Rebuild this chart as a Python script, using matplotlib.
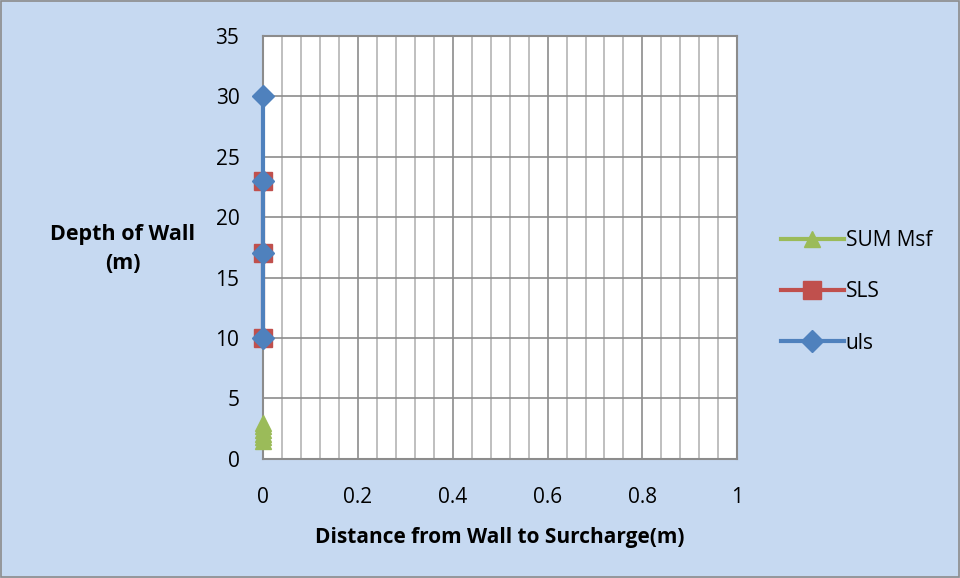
import matplotlib.pyplot as plt

plt.rcParams['font.family'] = ['Open Sans', 'DejaVu Sans']

# data
sum_msf_x = [0, 0, 0, 0, 0, 0]
sum_msf_y = [1.5, 1.8, 2.1, 2.4, 2.7, 3.0]
sls_x = [0, 0, 0]
sls_y = [10, 17, 23]
uls_x = [0, 0, 0, 0]
uls_y = [10, 17, 23, 30]
x_ticks = [0, 0.2, 0.4, 0.6, 0.8, 1]
x_tick_labels = ['0', '0.2', '0.4', '0.6', '0.8', '1']
y_ticks = [0, 5, 10, 15, 20, 25, 30, 35]

bg = '#C6D9F1'
fig = plt.figure(figsize=(9.6, 5.78), dpi=100, facecolor=bg)
ax = fig.add_axes([0.274, 0.206, 0.494, 0.732])
ax.set_facecolor('white')

ax.plot(sum_msf_x, sum_msf_y, color='#9BBB59', lw=3, marker='^', ms=12, label='SUM Msf', clip_on=False, zorder=3)
ax.plot(sls_x, sls_y, color='#C0504D', lw=3, marker='s', ms=13, label='SLS', clip_on=False, zorder=4)
ax.plot(uls_x, uls_y, color='#4F81BD', lw=3, marker='D', ms=11, label='uls', clip_on=False, zorder=5)

ax.set_xlim(0, 1)
ax.set_ylim(0, 35)
ax.set_xticks(x_ticks)
ax.set_xticklabels(x_tick_labels)
ax.set_xticks([i * 0.04 for i in range(26)], minor=True)
ax.set_yticks(y_ticks)
ax.grid(which='major', color='#8C8C8C', lw=1.2)
ax.grid(which='minor', axis='x', color='#B4B4B4', lw=1.2)
ax.set_axisbelow(True)
ax.tick_params(which='both', length=0, labelsize=15)
ax.tick_params(axis='x', pad=20)
ax.tick_params(axis='y', pad=17)
for s in ax.spines.values():
    s.set_color('#8C8C8C')
    s.set_linewidth(1.5)

ax.set_xlabel('Distance from Wall to Surcharge(m)', fontsize=15, fontweight='bold', labelpad=14)
fig.text(0.128, 0.57, 'Depth of Wall\n(m)', fontsize=15.5, fontweight='bold', ha='center', va='center',
         linespacing=1.5)

leg = ax.legend(loc='center left', bbox_to_anchor=(1.075, 0.395), frameon=False, fontsize=15,
                handlelength=3.0, labelspacing=1.45, handletextpad=0.1, borderaxespad=0)

fig.patches.append(plt.Rectangle((0.001, 0.002), 0.998, 0.996, transform=fig.transFigure,
                                 fill=False, edgecolor='#8C8C8C', lw=1.2))
fig.savefig('out.png', dpi=100, facecolor=bg)
